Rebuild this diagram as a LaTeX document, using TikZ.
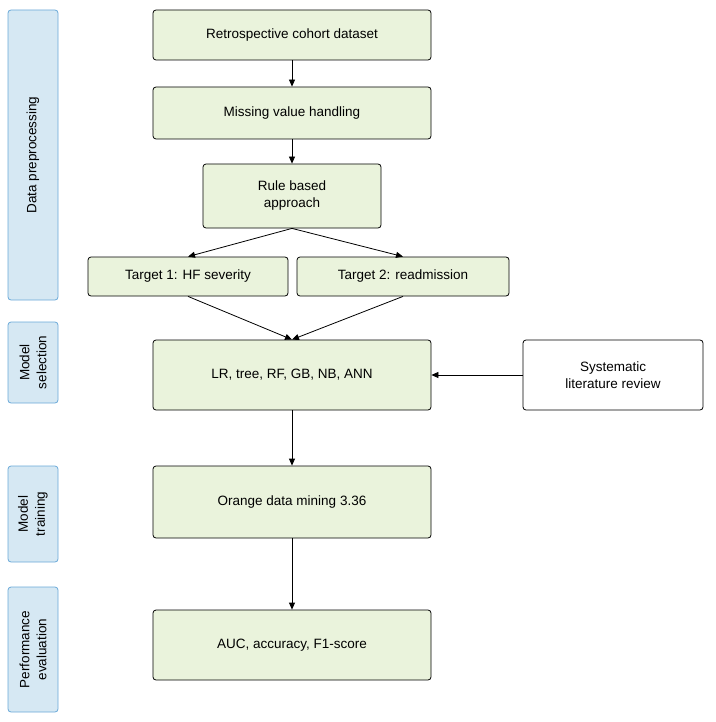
\documentclass[tikz,border=0pt]{standalone}
\usepackage{fontspec}
\setmainfont{Liberation Sans}
\usetikzlibrary{arrows.meta}
\definecolor{gfill}{HTML}{EAF3DC}
\definecolor{bfill}{HTML}{D6E8F3}
\definecolor{bline}{HTML}{6AA9D8}
\begin{document}
\begin{tikzpicture}[x=1pt,y=-1pt,
  box/.style={draw=black,fill=gfill,rounded corners=3pt,line width=0.8pt,align=center,font=\fontsize{13.5}{17}\selectfont},
  side/.style={draw=bline,fill=bfill,rounded corners=3pt,line width=0.8pt,align=center,font=\fontsize{13.5}{17}\selectfont},
  arr/.style={-{Triangle[length=7pt,width=6pt]},line width=0.8pt}]
\useasboundingbox (0,0) rectangle (715,722);
\newcommand{\bx}[6]{\node[#6,minimum width=#4-#2,minimum height=#5-#3,inner sep=0pt] (#1) at ({(#2+#4)/2},{(#3+#5)/2}) {};}
\bx{s1}{8}{10}{58}{300}{side}
\bx{s2}{8}{322}{58}{403}{side}
\bx{s3}{8}{466}{58}{562}{side}
\bx{s4}{8}{587}{58}{712}{side}
\node[rotate=90,align=center,font=\fontsize{13.5}{17}\selectfont] at (s1) {Data preprocessing};
\node[rotate=90,align=center,font=\fontsize{13.5}{17}\selectfont] at (s2) {Model\\selection};
\node[rotate=90,align=center,font=\fontsize{13.5}{17}\selectfont] at (s3) {Model\\training};
\node[rotate=90,align=center,font=\fontsize{13.5}{17}\selectfont] at (s4) {Performance\\evaluation};
\bx{a}{153}{10}{431}{60}{box}
\bx{b}{153}{87}{431}{139}{box}
\bx{c}{203}{164}{381}{228}{box}
\bx{t1}{88}{257}{288}{296}{box}
\bx{t2}{297}{257}{509}{296}{box}
\bx{m}{153}{340}{431}{410}{box}
\bx{lit}{523}{340}{703}{410}{box,fill=white}
\bx{o}{153}{466}{431}{538}{box}
\bx{p}{153}{610}{431}{680}{box}
\node[font=\fontsize{13.5}{17}\selectfont] at (a) {Retrospective cohort dataset};
\node[font=\fontsize{13.5}{17}\selectfont] at (b) {Missing value handling};
\node[font=\fontsize{13.5}{17}\selectfont,align=center] at (c) {Rule based\\approach};
\node[font=\fontsize{13.5}{17}\selectfont] at (t1) {Target 1: HF severity};
\node[font=\fontsize{13.5}{17}\selectfont] at (t2) {Target 2: readmission};
\node[font=\fontsize{13.5}{17}\selectfont] at (m) {LR, tree, RF, GB, NB, ANN};
\node[font=\fontsize{13.5}{17}\selectfont,align=center] at (lit) {Systematic\\literature review};
\node[font=\fontsize{13.5}{17}\selectfont] at (o) {Orange data mining 3.36};
\node[font=\fontsize{13.5}{17}\selectfont] at (p) {AUC, accuracy, F1-score};
\draw[arr] (a.south) -- (b.north);
\draw[arr] (b.south) -- (c.north);
\draw[arr] (c.south) -- (t1.north);
\draw[arr] (c.south) -- (t2.north);
\draw[arr] (t1.south) -- (m.north);
\draw[arr] (t2.south) -- (m.north);
\draw[arr] (lit.west) -- (m.east);
\draw[arr] (m.south) -- (o.north);
\draw[arr] (o.south) -- (p.north);
\end{tikzpicture}
\end{document}
